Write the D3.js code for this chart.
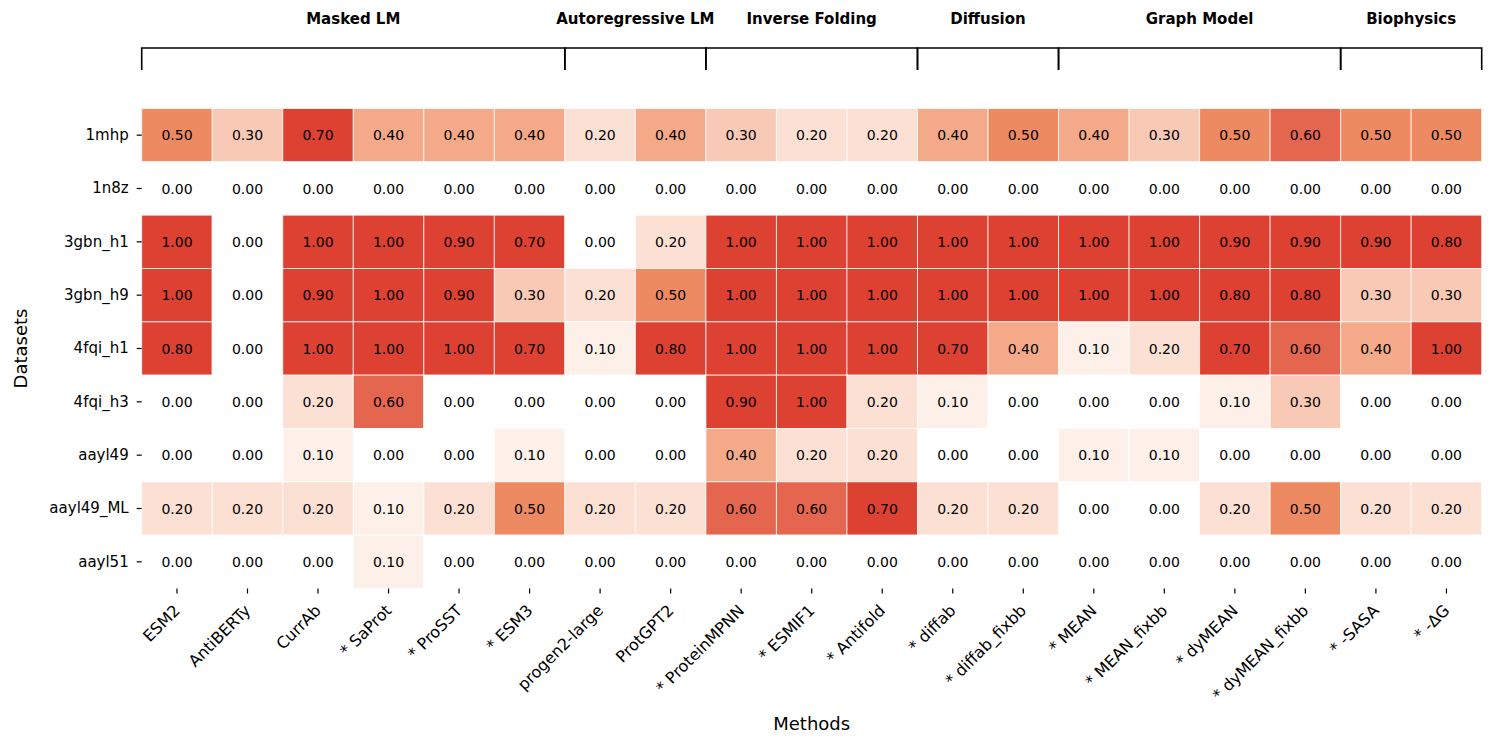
<!DOCTYPE html>
<html>
<head>
<meta charset="utf-8">
<script src="https://cdn.jsdelivr.net/npm/d3@7.9.0/dist/d3.min.js"></script>
<style>
  html, body { margin: 0; padding: 0; background: #fff; }
  svg { display: block; font-family: "DejaVu Sans", sans-serif; }
</style>
</head>
<body>
<div id="chart"></div>
<script>
// ── Data ────────────────────────────────────────────────────────────────────
var methods = ["ESM2", "AntiBERTy", "CurrAb", "* SaProt", "* ProSST", "* ESM3",
  "progen2-large", "ProtGPT2", "* ProteinMPNN", "* ESMIF1", "* Antifold",
  "* diffab", "* diffab_fixbb", "* MEAN", "* MEAN_fixbb", "* dyMEAN",
  "* dyMEAN_fixbb", "* -SASA", "* -\u0394G"];

var datasets = ["1mhp", "1n8z", "3gbn_h1", "3gbn_h9", "4fqi_h1", "4fqi_h3",
  "aayl49", "aayl49_ML", "aayl51"];

// method groups (label, number of consecutive columns)
var groupNames  = ["Masked LM", "Autoregressive LM", "Inverse Folding", "Diffusion", "Graph Model", "Biophysics"];
var groupSizes  = [6, 2, 3, 2, 4, 2];

var row_1mhp     = [0.5, 0.3, 0.7, 0.4, 0.4, 0.4, 0.2, 0.4, 0.3, 0.2, 0.2, 0.4, 0.5, 0.4, 0.3, 0.5, 0.6, 0.5, 0.5];
var row_1n8z     = [0, 0, 0, 0, 0, 0, 0, 0, 0, 0, 0, 0, 0, 0, 0, 0, 0, 0, 0];
var row_3gbn_h1  = [1.0, 0, 1.0, 1.0, 0.9, 0.7, 0, 0.2, 1.0, 1.0, 1.0, 1.0, 1.0, 1.0, 1.0, 0.9, 0.9, 0.9, 0.8];
var row_3gbn_h9  = [1.0, 0, 0.9, 1.0, 0.9, 0.3, 0.2, 0.5, 1.0, 1.0, 1.0, 1.0, 1.0, 1.0, 1.0, 0.8, 0.8, 0.3, 0.3];
var row_4fqi_h1  = [0.8, 0, 1.0, 1.0, 1.0, 0.7, 0.1, 0.8, 1.0, 1.0, 1.0, 0.7, 0.4, 0.1, 0.2, 0.7, 0.6, 0.4, 1.0];
var row_4fqi_h3  = [0, 0, 0.2, 0.6, 0, 0, 0, 0, 0.9, 1.0, 0.2, 0.1, 0, 0, 0, 0.1, 0.3, 0, 0];
var row_aayl49   = [0, 0, 0.1, 0, 0, 0.1, 0, 0, 0.4, 0.2, 0.2, 0, 0, 0.1, 0.1, 0, 0, 0, 0];
var row_aayl49ML = [0.2, 0.2, 0.2, 0.1, 0.2, 0.5, 0.2, 0.2, 0.6, 0.6, 0.7, 0.2, 0.2, 0, 0, 0.2, 0.5, 0.2, 0.2];
var row_aayl51   = [0, 0, 0, 0.1, 0, 0, 0, 0, 0, 0, 0, 0, 0, 0, 0, 0, 0, 0, 0];

var rows = [row_1mhp, row_1n8z, row_3gbn_h1, row_3gbn_h9, row_4fqi_h1,
  row_4fqi_h3, row_aayl49, row_aayl49ML, row_aayl51];

// ── Layout ──────────────────────────────────────────────────────────────────
var W = 1494, H = 747;
var L = 141.7, R = 1481.7, T = 108.5, B = 588.5;
var FONT = "'DejaVu Sans', sans-serif";

var svg = d3.select("#chart").append("svg")
  .attr("width", W).attr("height", H);

var x = d3.scaleBand().domain(methods).range([L, R]).padding(0);
var y = d3.scaleBand().domain(datasets).range([T, B]).padding(0);

// colour: white at 0, saturates at 0.7
var color = d3.scaleLinear()
  .domain([0, 0.1, 0.2, 0.3, 0.4, 0.5, 0.6, 0.7])
  .range(["#ffffff", "#fdf0e9", "#fce0d3", "#f8c9b4", "#f4aa89", "#ee8a62", "#e5664e", "#dc4132"])
  .clamp(true);

var cells = [];
rows.forEach(function (r, i) {
  r.forEach(function (v, j) { cells.push({ ds: datasets[i], m: methods[j], v: v }); });
});

// ── Cells ───────────────────────────────────────────────────────────────────
var cellG = svg.append("g");
cellG.selectAll("rect").data(cells).enter().append("rect")
  .attr("x", function (d) { return x(d.m); })
  .attr("y", function (d) { return y(d.ds); })
  .attr("width", x.bandwidth())
  .attr("height", y.bandwidth())
  .attr("fill", function (d) { return color(d.v); })
  .attr("stroke", "rgba(255,255,255,0.75)")
  .attr("stroke-width", 1);

cellG.selectAll("text").data(cells).enter().append("text")
  .attr("x", function (d) { return x(d.m) + x.bandwidth() / 2; })
  .attr("y", function (d) { return y(d.ds) + y.bandwidth() / 2; })
  .attr("text-anchor", "middle")
  .attr("dy", "0.36em")
  .attr("font-family", FONT)
  .attr("font-size", "14px")
  .attr("fill", "#000")
  .text(function (d) { return d.v.toFixed(2); });

// ── Axes ────────────────────────────────────────────────────────────────────
var xAxis = svg.append("g")
  .attr("transform", "translate(0," + B + ")")
  .call(d3.axisBottom(x).tickSize(5).tickPadding(4));
xAxis.select(".domain").remove();
xAxis.selectAll(".tick line").attr("stroke", "#000").attr("stroke-width", 1.2);
xAxis.selectAll(".tick text")
  .attr("font-family", FONT)
  .attr("font-size", "16px")
  .attr("fill", "#000")
  .attr("text-anchor", "end")
  .attr("x", 0).attr("y", 0).attr("dy", 0)
  .attr("transform", "translate(4,23) rotate(-45)");

var yAxis = svg.append("g")
  .attr("transform", "translate(" + L + ",0)")
  .call(d3.axisLeft(y).tickSize(5).tickPadding(8));
yAxis.select(".domain").remove();
yAxis.selectAll(".tick line").attr("stroke", "#000").attr("stroke-width", 1.2);
yAxis.selectAll(".tick text")
  .attr("font-family", FONT)
  .attr("font-size", "15px")
  .attr("fill", "#000");

// axis titles
svg.append("text")
  .attr("x", (L + R) / 2).attr("y", 730)
  .attr("text-anchor", "middle")
  .attr("font-family", FONT).attr("font-size", "18px")
  .text("Methods");

svg.append("text")
  .attr("transform", "translate(27," + (T + B) / 2 + ") rotate(-90)")
  .attr("text-anchor", "middle")
  .attr("font-family", FONT).attr("font-size", "18px")
  .text("Datasets");

// ── Group brackets ──────────────────────────────────────────────────────────
var brG = svg.append("g");
var start = 0;
groupNames.forEach(function (name, gi) {
  var n = groupSizes[gi];
  var x0 = x(methods[start]);
  var x1 = x(methods[start + n - 1]) + x.bandwidth();
  brG.append("path")
    .attr("d", "M" + x0 + ",70 V48 H" + x1 + " V70")
    .attr("fill", "none")
    .attr("stroke", "#000")
    .attr("stroke-width", 1.6);
  brG.append("text")
    .attr("x", (x0 + x1) / 2).attr("y", 24)
    .attr("text-anchor", "middle")
    .attr("font-family", FONT).attr("font-size", "15px")
    .attr("font-weight", "bold")
    .text(name);
  start += n;
});
</script>
</body>
</html>
